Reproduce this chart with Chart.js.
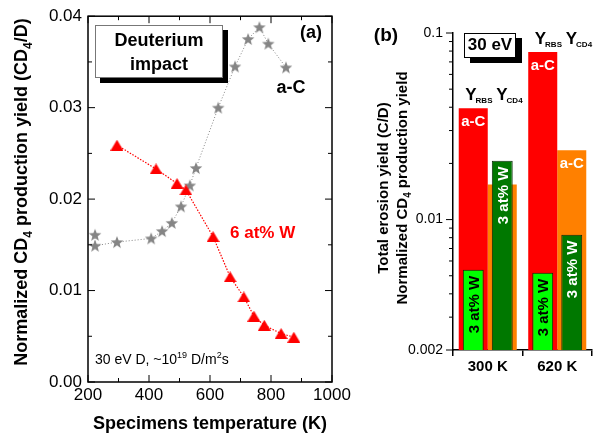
<!DOCTYPE html>
<html>
<head>
<meta charset="utf-8">
<script src="https://cdn.jsdelivr.net/npm/chart.js@4.4.0/dist/chart.umd.min.js"></script>
<style>
html, body { margin: 0; padding: 0; background: #fff; }
#wrap { position: relative; width: 594px; height: 441px; overflow: hidden; }
#chartA { position: absolute; left: 0; top: 0; }
#chartB { position: absolute; left: 340px; top: 0; }
</style>
</head>
<body>
<div id="wrap">
<canvas id="chartA" width="360" height="441"></canvas>
<canvas id="chartB" width="254" height="441"></canvas>
</div>
<script>
// (a) CD4 yield vs specimen temperature
var acTemp  = [223, 223, 295, 407, 443, 475, 505, 534, 554, 627, 682, 725, 762, 791, 849];
var acYield = [0.0161, 0.0149, 0.0153, 0.0157, 0.0165, 0.0174, 0.0192, 0.0215, 0.0234, 0.0300, 0.0345, 0.0375, 0.0388, 0.0370, 0.0344];
var wTemp   = [295, 423, 492, 521, 610, 666, 711, 744, 778, 833, 875];
var wYield  = [0.0259, 0.0233, 0.0217, 0.0210, 0.0159, 0.0115, 0.0093, 0.0072, 0.0062, 0.0053, 0.0049];

// (b) total erosion / CD4 yields at 30 eV
var tempLabels = ['300 K', '620 K'];
var acRBS = [0.0395, 0.079];
var acCD4 = [0.0154, 0.0235];
var wRBS  = [0.00538, 0.00519];
var wCD4  = [0.0207, 0.0083];
var logTicks  = [0.002, 0.003, 0.004, 0.005, 0.006, 0.007, 0.008, 0.009, 0.01, 0.02, 0.03, 0.04, 0.05, 0.06, 0.07, 0.08, 0.09, 0.1];
var logLabels = [0.002, 0.01, 0.1];

var FAM = "'Liberation Sans', Arial, sans-serif";
Chart.defaults.font.family = FAM;
Chart.defaults.color = '#000';

function makeStar(color, r) {
    var c = document.createElement('canvas');
    var s = Math.ceil(r * 2) + 2;
    c.width = s; c.height = s;
    var g = c.getContext('2d');
    g.fillStyle = color;
    g.beginPath();
    for (var i = 0; i < 10; i++) {
        var rr = i % 2 === 0 ? r : r * 0.42;
        var ang = -Math.PI / 2 + i * Math.PI / 5;
        g.lineTo(s / 2 + rr * Math.cos(ang), s / 2 + 0.6 + rr * Math.sin(ang));
    }
    g.closePath();
    g.fill();
    return c;
}

function makeTri(color, w, h) {
    var c = document.createElement('canvas');
    c.width = w; c.height = h;
    var g = c.getContext('2d');
    g.fillStyle = color;
    g.beginPath();
    g.moveTo(w / 2, 0);
    g.lineTo(w, h);
    g.lineTo(0, h);
    g.closePath();
    g.fill();
    return c;
}

// text with sub/superscripts, y is the baseline
function drawRich(ctx, x, y, segs, o) {
    var size = o.size, small = o.small || Math.round(size * 0.65);
    var w = segs.map(function (s) {
        ctx.font = o.weight + ' ' + (s.sub || s.sup ? small : size) + 'px ' + FAM;
        return ctx.measureText(s.t).width;
    });
    var total = w.reduce(function (a, b) { return a + b; }, 0);
    var cx = o.align === 'center' ? x - total / 2 : (o.align === 'right' ? x - total : x);
    ctx.fillStyle = o.color || '#000';
    ctx.textAlign = 'left';
    ctx.textBaseline = 'alphabetic';
    segs.forEach(function (s, i) {
        ctx.font = o.weight + ' ' + (s.sub || s.sup ? small : size) + 'px ' + FAM;
        var dy = s.sub ? (o.subDy || size * 0.28) : (s.sup ? -size * 0.42 : 0);
        ctx.fillText(s.t, cx + (s.dx || 0), y + dy);
        cx += w[i] + (s.dx || 0);
    });
}

function line(ctx, x1, y1, x2, y2) {
    ctx.beginPath(); ctx.moveTo(x1, y1); ctx.lineTo(x2, y2); ctx.stroke();
}

var panelA = {
    id: 'panelA',
    afterDraw: function (chart) {
        var ctx = chart.ctx, a = chart.chartArea, xs = chart.scales.x, ys = chart.scales.y;
        ctx.save();
        ctx.strokeStyle = '#000';
        ctx.lineWidth = 1.5;
        ctx.strokeRect(a.left, a.top, a.right - a.left, a.bottom - a.top);
        ctx.lineWidth = 1;
        // inward major + minor ticks on all four sides
        var xv = xs.ticks.map(function (t) { return t.value; });
        for (var i = 0; i < xv.length; i++) {
            var px = xs.getPixelForValue(xv[i]);
            line(ctx, px, a.bottom, px, a.bottom - 7);
            line(ctx, px, a.top, px, a.top + 7);
            if (i < xv.length - 1) {
                var pm = xs.getPixelForValue((xv[i] + xv[i + 1]) / 2);
                line(ctx, pm, a.bottom, pm, a.bottom - 4);
                line(ctx, pm, a.top, pm, a.top + 4);
            }
        }
        var yv = ys.ticks.map(function (t) { return t.value; });
        for (var j = 0; j < yv.length; j++) {
            var py = ys.getPixelForValue(yv[j]);
            line(ctx, a.left, py, a.left + 7, py);
            line(ctx, a.right, py, a.right - 7, py);
            if (j < yv.length - 1) {
                var qm = ys.getPixelForValue((yv[j] + yv[j + 1]) / 2);
                line(ctx, a.left, qm, a.left + 4, qm);
                line(ctx, a.right, qm, a.right - 4, qm);
            }
        }

        // "Deuterium impact" box
        ctx.fillStyle = '#000';
        ctx.fillRect(100, 30, 128, 53);
        ctx.fillStyle = '#fff';
        ctx.fillRect(95, 25, 128, 53);
        ctx.strokeStyle = '#777';
        ctx.lineWidth = 1;
        ctx.strokeRect(95.5, 25.5, 127, 52);
        ctx.fillStyle = '#000';
        ctx.textAlign = 'center';
        ctx.textBaseline = 'alphabetic';
        ctx.font = 'bold 18px ' + FAM;
        ctx.fillText('Deuterium', 159, 46);
        ctx.fillText('impact', 159, 70);

        ctx.fillText('(a)', 311, 38);
        ctx.fillText('a-C', 291, 93);
        ctx.fillStyle = '#ff0000';
        ctx.font = 'bold 17px ' + FAM;
        ctx.textAlign = 'left';
        ctx.fillText('6 at% W', 230, 238);

        drawRich(ctx, 95, 364, [{t: '30 eV D, ~10'}, {t: '19', sup: 1}, {t: ' D/m'}, {t: '2', sup: 1}, {t: 's'}],
            {size: 14, weight: 'normal', color: '#000', small: 9});

        // y title
        ctx.translate(27, 192);
        ctx.rotate(-Math.PI / 2);
        drawRich(ctx, 0, 0, [{t: 'Normalized CD'}, {t: '4', sub: 1}, {t: ' production yield (CD'}, {t: '4', sub: 1}, {t: '/D)'}],
            {size: 18, weight: 'bold', color: '#000', align: 'center', small: 12, subDy: 5});
        ctx.restore();
    }
};

new Chart(document.getElementById('chartA').getContext('2d'), {
    type: 'scatter',
    data: {
        datasets: [{
            label: '6 at% W',
            data: wTemp.map(function (t, i) { return {x: t, y: wYield[i]}; }),
            showLine: true,
            borderColor: '#ff0000',
            borderWidth: 1.2,
            borderDash: [1.5, 1.5],
            pointStyle: makeTri('#ff0000', 13, 11)
        }, {
            label: 'a-C',
            data: acTemp.map(function (t, i) { return {x: t, y: acYield[i]}; }),
            showLine: true,
            borderColor: '#858585',
            borderWidth: 1,
            borderDash: [1, 2],
            pointStyle: makeStar('#858585', 6.6)
        }]
    },
    options: {
        responsive: false,
        animation: false,
        layout: { padding: { left: 0, right: 28, top: 14, bottom: 0 } },
        scales: {
            x: {
                type: 'linear',
                min: 200,
                max: 1000,
                ticks: {
                    stepSize: 200, maxRotation: 0, padding: 3, font: { size: 17 }, color: '#000',
                    callback: function (v) { return String(v); }
                },
                grid: { display: false, drawTicks: false },
                border: { display: false },
                title: { display: true, text: 'Specimens temperature (K)', color: '#000', font: { size: 18, weight: 'bold' }, padding: { top: 0, bottom: 6 } },
                afterFit: function (s) { s.height = 59; }
            },
            y: {
                min: 0,
                max: 0.04,
                ticks: {
                    stepSize: 0.01,
                    padding: 6,
                    font: { size: 17 },
                    color: '#000',
                    callback: function (v) { return v.toFixed(2); }
                },
                grid: { display: false, drawTicks: false },
                border: { display: false },
                afterFit: function (s) { s.width = 88; }
            }
        },
        plugins: {
            legend: { display: false },
            tooltip: { enabled: false }
        }
    },
    plugins: [panelA]
});

var panelB = {
    id: 'panelB',
    afterDraw: function (chart) {
        var ctx = chart.ctx, a = chart.chartArea, ys = chart.scales.y;
        ctx.save();
        ctx.strokeStyle = '#000';
        ctx.lineWidth = 1;
        logTicks.forEach(function (v) {
            var py = ys.getPixelForValue(v);
            var len = logLabels.indexOf(v) >= 0 ? 7 : 4;
            line(ctx, a.left, py, a.left - len, py);
        });

        var wR = chart.getDatasetMeta(0).data, wC = chart.getDatasetMeta(1).data;
        var aR = chart.getDatasetMeta(2).data, aC = chart.getDatasetMeta(3).data;

        // a-C labels at the top of red/orange bars
        ctx.fillStyle = '#fff';
        ctx.textAlign = 'center';
        ctx.textBaseline = 'alphabetic';
        ctx.font = 'bold 15px ' + FAM;
        aR.forEach(function (b) { ctx.fillText('a-C', b.x, b.y + 18); });
        ctx.fillText('a-C', aC[1].x, aC[1].y + 18);

        // rotated "3 at% W" in green bars
        function vlabel(b, color) {
            ctx.save();
            ctx.translate(b.x + 5.4, b.y + 6);
            ctx.rotate(-Math.PI / 2);
            ctx.fillStyle = color;
            ctx.textAlign = 'right';
            ctx.font = 'bold 15px ' + FAM;
            ctx.fillText('3 at% W', 0, 0);
            ctx.restore();
        }
        wR.forEach(function (b) { vlabel(b, '#000'); });
        wC.forEach(function (b) { vlabel(b, '#fff'); });

        // Y_RBS / Y_CD4 headers over each group
        aR.forEach(function (b, i) {
            var yb = b.y - 8;
            drawRich(ctx, b.x - 8, yb, [{t: 'Y'}, {t: 'RBS', sub: 1, dx: -1}], {size: 17, weight: 'bold', small: 8, subDy: 3});
            drawRich(ctx, aC[i].x - 6, yb, [{t: 'Y'}, {t: 'CD4', sub: 1, dx: -1}], {size: 17, weight: 'bold', small: 8, subDy: 3});
        });

        // "30 eV" box
        var bx = a.left + 11, by = a.top;
        ctx.fillStyle = '#000';
        ctx.fillRect(bx + 6, by + 5, 52, 25);
        ctx.fillStyle = '#fff';
        ctx.fillRect(bx, by, 52, 25);
        ctx.strokeStyle = '#000';
        ctx.strokeRect(bx + 0.5, by + 0.5, 51, 24);
        ctx.fillStyle = '#000';
        ctx.textAlign = 'center';
        ctx.font = 'bold 17px ' + FAM;
        ctx.fillText('30 eV', bx + 26, by + 17);

        ctx.font = 'bold 19px ' + FAM;
        ctx.fillText('(b)', 46, 41);

        // y titles
        ctx.save();
        ctx.translate(48, 188);
        ctx.rotate(-Math.PI / 2);
        drawRich(ctx, 0, 0, [{t: 'Total erosion yield (C/D)'}], {size: 15, weight: 'bold', align: 'center'});
        drawRich(ctx, 0, 19, [{t: 'Normalized CD'}, {t: '4', sub: 1}, {t: ' production yield'}], {size: 15, weight: 'bold', align: 'center', small: 10, subDy: 4});
        ctx.restore();
        ctx.restore();
    }
};

new Chart(document.getElementById('chartB').getContext('2d'), {
    type: 'bar',
    data: {
        labels: tempLabels,
        datasets: [{
            label: '3 at% W, Y_RBS',
            data: wRBS,
            stack: 'rbs',
            backgroundColor: '#00ff00',
            borderColor: '#0b2a0b',
            borderWidth: 1,
            barPercentage: 0.72,
            categoryPercentage: 0.835,
            order: 0
        }, {
            label: '3 at% W, Y_CD4',
            data: wCD4,
            stack: 'cd4',
            backgroundColor: '#007800',
            borderColor: '#0b2a0b',
            borderWidth: 1,
            barPercentage: 0.72,
            categoryPercentage: 0.835,
            order: 0
        }, {
            label: 'a-C, Y_RBS',
            data: acRBS,
            stack: 'rbs',
            backgroundColor: '#ff0000',
            borderWidth: 0,
            barPercentage: 1,
            categoryPercentage: 0.835,
            order: 1
        }, {
            label: 'a-C, Y_CD4',
            data: acCD4,
            stack: 'cd4',
            backgroundColor: '#ff8000',
            borderWidth: 0,
            barPercentage: 1,
            categoryPercentage: 0.835,
            order: 1
        }]
    },
    options: {
        responsive: false,
        animation: false,
        layout: { padding: { left: 0, right: 2, top: 33, bottom: 0 } },
        scales: {
            x: {
                type: 'category',
                offset: true,
                grid: { display: true, drawOnChartArea: false, offset: true, tickLength: 6, color: '#000', lineWidth: 1.5 },
                border: { display: true, color: '#000', width: 1.5 },
                ticks: { maxRotation: 0, padding: 2, color: '#000', font: { size: 15, weight: 'bold' } },
                afterFit: function (s) { s.height = 91; }
            },
            y: {
                type: 'logarithmic',
                stacked: false,
                min: 0.002,
                max: 0.1,
                afterBuildTicks: function (s) {
                    s.ticks = logTicks.map(function (v) { return {value: v}; });
                },
                ticks: {
                    autoSkip: false,
                    padding: 10,
                    color: '#000',
                    font: { size: 14 },
                    callback: function (v) { return logLabels.indexOf(v) >= 0 ? String(v) : ''; }
                },
                grid: { display: false, drawTicks: false },
                border: { display: true, color: '#000', width: 1.5 },
                afterFit: function (s) { s.width = 113; }
            }
        },
        plugins: {
            legend: { display: false },
            tooltip: { enabled: false }
        }
    },
    plugins: [panelB]
});
</script>
</body>
</html>
